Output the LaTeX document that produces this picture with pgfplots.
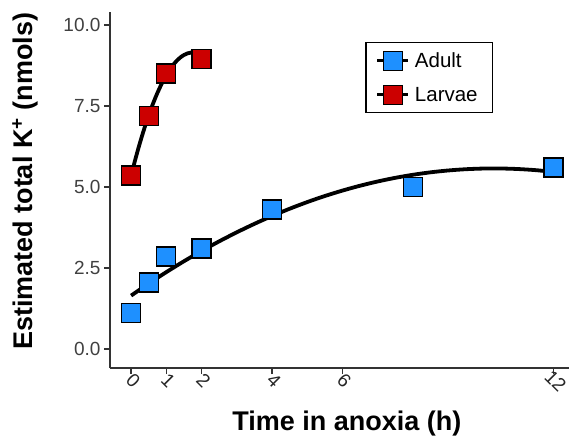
\documentclass[border=0pt]{standalone}
\usepackage{pgfplots}
\pgfplotsset{compat=1.18}
\usepackage{fontspec}
\setmainfont{Liberation Sans}
\definecolor{adultblue}{HTML}{1E90FF}
\definecolor{larvared}{HTML}{CC0000}
\definecolor{axisgray}{HTML}{333333}

\begin{document}
\begin{tikzpicture}
\begin{axis}[
  scale only axis,
  width=459pt, height=356pt,
  xmin=-0.6, xmax=12.44,
  ymin=-0.59, ymax=10.4,
  axis x line=bottom, axis y line=left,
  axis line style={-, axisgray, line width=1.5pt},
  tick style={axisgray, line width=1.3pt},
  major tick length=6pt,
  tick align=outside,
  xtick={0,1,2,4,6,12},
  xticklabels={0,1,2,4,6,12},
  ytick={0,2.5,5,7.5,10},
  yticklabels={0.0,2.5,5.0,7.5,10.0},
  x tick label style={font=\fontsize{19}{19}\selectfont, yshift=-7pt, xshift=2pt, rotate=-45, anchor=center, text=black!85},
  y tick label style={font=\fontsize{19}{19}\selectfont, text=black!75},
  xlabel={\bfseries Time in anoxia (h)},
  ylabel={\bfseries Estimated total K\textsuperscript{+} (nmols)},
  every axis x label/.style={at={(axis description cs:0.516,0)}, anchor=center, yshift=-56pt, font=\fontsize{27}{27}\selectfont},
  every axis y label/.style={at={(axis description cs:-0.185,0.524)}, anchor=center, rotate=90, font=\fontsize{27}{27}\selectfont},
  legend style={at={(0.556,0.916)}, anchor=north west, draw=black, line width=1.5pt,
    font=\fontsize{20.5}{20.5}\selectfont, row sep=14pt, inner xsep=10pt, inner ysep=8pt,
    nodes={inner xsep=5pt}},
  legend cell align=left,
  legend image code/.code={
    \draw[black, line width=3pt] (0pt,0pt) -- (31pt,0pt);
    \draw[#1, mark repeat=2, mark phase=2] plot coordinates {(0pt,0pt) (15.5pt,0pt) (31pt,0pt)};
  },
]
% fitted curves
\addplot[black, line width=3.8pt, smooth, forget plot] coordinates {
  (0,1.645) (0.5,2.017) (1,2.370) (1.5,2.705) (2,3.021) (2.5,3.319) (3,3.598)
  (3.5,3.859) (4,4.101) (4.5,4.325) (5,4.531) (5.5,4.718) (6,4.886) (6.5,5.036)
  (7,5.167) (7.5,5.280) (8,5.374) (8.5,5.450) (9,5.507) (9.5,5.546) (10,5.567)
  (10.5,5.569) (11,5.552) (11.5,5.517) (12,5.463)
};
\addplot[black, line width=3.8pt, smooth, forget plot] coordinates {
  (0,5.350) (0.1,5.771) (0.2,6.168) (0.3,6.541) (0.4,6.888) (0.5,7.211)
  (0.6,7.509) (0.7,7.782) (0.8,8.030) (0.9,8.253) (1.0,8.452) (1.1,8.626)
  (1.2,8.775) (1.3,8.899) (1.4,8.998) (1.5,9.072) (1.6,9.122) (1.7,9.147)
  (1.8,9.147) (1.9,9.122) (2.0,9.072)
};
% observations
\addplot[only marks, mark=square*, mark size=9.5pt,
  mark options={fill=adultblue, draw=black, line width=1.3pt}] coordinates {
  (0,1.1) (0.5,2.05) (1,2.85) (2,3.1) (4,4.3) (8,5.0) (12,5.6)
};
\addlegendentry{Adult}
\addplot[only marks, mark=square*, mark size=9.5pt,
  mark options={fill=larvared, draw=black, line width=1.3pt}] coordinates {
  (0,5.35) (0.5,7.2) (1,8.5) (2,8.95)
};
\addlegendentry{Larvae}
\end{axis}
\pgfresetboundingbox
\path ([shift={(-110pt,-74pt)}]current axis.south west) rectangle ([shift={(0pt,12pt)}]current axis.north east);
\end{tikzpicture}
\end{document}
